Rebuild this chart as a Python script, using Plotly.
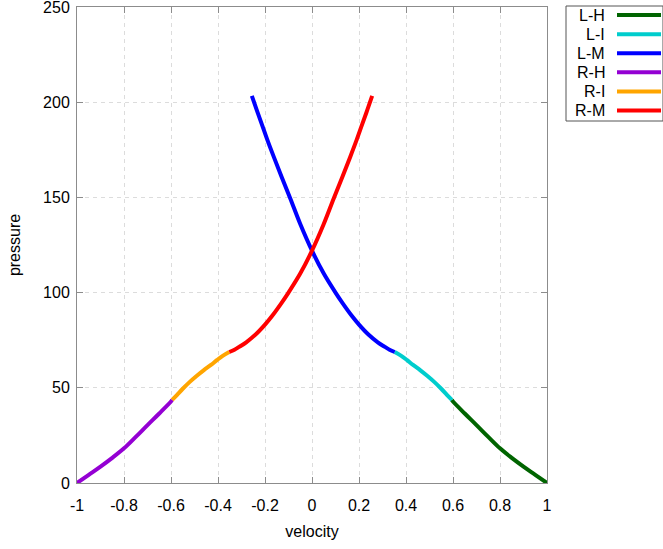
import plotly.graph_objects as go

# ---- data ----
lh_v = [0.595, 0.6, 0.65, 0.7, 0.75, 0.8, 0.85, 0.9, 0.95, 1.0]
lh_p = [43.6, 42.8, 36.5, 30.4, 24.2, 18.2, 13.2, 8.6, 4.3, 0.0]

li_v = [0.352, 0.38, 0.405, 0.43, 0.46, 0.49, 0.52, 0.55, 0.575, 0.595]
li_p = [68.8, 66.8, 64.5, 62.0, 59.3, 56.3, 53.1, 49.5, 46.2, 43.6]

lm_v = [-0.256, -0.235, -0.213, -0.19, -0.163, -0.13, -0.092, -0.05, 0.0,
        0.05, 0.10, 0.13, 0.17, 0.20, 0.24, 0.28, 0.31, 0.33, 0.352]
lm_p = [203.3, 195.8, 188.2, 180.2, 171.4, 161.0, 149.3, 136.0, 122.0,
        110.0, 100.0, 94.5, 87.7, 83.2, 78.0, 73.9, 71.5, 70.0, 68.8]

rh_v = [-1.0, -0.95, -0.9, -0.85, -0.8, -0.75, -0.7, -0.65, -0.6, -0.595]
rh_p = [0.0, 4.3, 8.6, 13.2, 18.2, 24.2, 30.4, 36.5, 42.8, 43.6]

ri_v = [-0.595, -0.575, -0.55, -0.52, -0.49, -0.46, -0.43, -0.405, -0.38, -0.352]
ri_p = [43.6, 46.2, 49.5, 53.1, 56.3, 59.3, 62.0, 64.5, 66.8, 68.8]

rm_v = [-0.352, -0.33, -0.31, -0.28, -0.24, -0.20, -0.17, -0.13, -0.10, -0.05,
        0.0, 0.05, 0.092, 0.13, 0.163, 0.19, 0.213, 0.235, 0.256]
rm_p = [68.8, 70.0, 71.5, 73.9, 78.0, 83.2, 87.7, 94.5, 100.0, 110.0,
        122.0, 136.0, 149.3, 161.0, 171.4, 180.2, 188.2, 195.8, 203.3]

names = ["L-H", "L-I", "L-M", "R-H", "R-I", "R-M"]
colors = ["#006400", "#00CDCD", "#0000FF", "#9400D3", "#FFA500", "#FF0000"]
series = [(lh_v, lh_p), (li_v, li_p), (lm_v, lm_p),
          (rh_v, rh_p), (ri_v, ri_p), (rm_v, rm_p)]

x_ticks = [-1, -0.8, -0.6, -0.4, -0.2, 0, 0.2, 0.4, 0.6, 0.8, 1]
x_labels = ["-1", "-0.8", "-0.6", "-0.4", "-0.2", "0", "0.2", "0.4", "0.6", "0.8", "1"]
y_ticks = [0, 50, 100, 150, 200, 250]

FONT = "Liberation Sans, Arial, sans-serif"

fig = go.Figure()
for (v, p), n, c in zip(series, names, colors):
    fig.add_trace(go.Scatter(x=v, y=p, mode="lines", name=n,
                             line=dict(color=c, width=4, shape="spline",
                                       smoothing=1.0),
                             showlegend=False))

# plot area in pixels: left 77, right 547, top 7, bottom 483
L, R, T, B = 77, 547, 7, 483
W, H = 663, 549
pw, ph = R - L, B - T

def px(x):
    return (x - L) / pw

def py(y):
    return (B - y) / ph

shapes = []
annotations = []
# legend box
shapes.append(dict(type="rect", xref="paper", yref="paper",
                   x0=px(566), x1=px(663), y0=py(121), y1=py(6),
                   line=dict(color="#555555", width=1), fillcolor="white"))
row_y = [15, 34.3, 53.3, 72.3, 91.5, 110.5]
for n, c, ry in zip(names, colors, row_y):
    annotations.append(dict(xref="paper", yref="paper", x=px(607), y=py(ry),
                            text=n, showarrow=False, xanchor="right",
                            yanchor="middle",
                            font=dict(family=FONT, size=16, color="black")))
    shapes.append(dict(type="line", xref="paper", yref="paper",
                       x0=px(617), x1=px(661), y0=py(ry), y1=py(ry),
                       line=dict(color=c, width=4)))

axis_common = dict(
    showline=True, linecolor="#8c8c8c", linewidth=1, mirror="ticks",
    ticks="inside", ticklen=6, tickcolor="#8c8c8c",
    showgrid=True, gridcolor="#dcdcdc", griddash="4px,4px", gridwidth=1,
    zeroline=False, ticklabeloverflow="allow", automargin=False,
    tickfont=dict(family=FONT, size=16, color="black"),
)

fig.update_xaxes(range=[-1, 1], tickvals=x_ticks, ticktext=x_labels,
                 ticklabelstandoff=8,
                 title=dict(text="velocity", standoff=12,
                            font=dict(family=FONT, size=16, color="black")),
                 **axis_common)
fig.update_yaxes(range=[0, 250], tickvals=y_ticks,
                 ticklabelstandoff=3,
                 title=dict(text="pressure", standoff=18,
                            font=dict(family=FONT, size=16, color="black")),
                 **axis_common)

fig.update_layout(
    width=W, height=H,
    margin=dict(l=L, r=W - R, t=T, b=H - B, pad=0, autoexpand=False),
    plot_bgcolor="white", paper_bgcolor="white",
    shapes=shapes, annotations=annotations,
    font=dict(family=FONT, size=16, color="black"),
)

fig.write_html("out.html")
